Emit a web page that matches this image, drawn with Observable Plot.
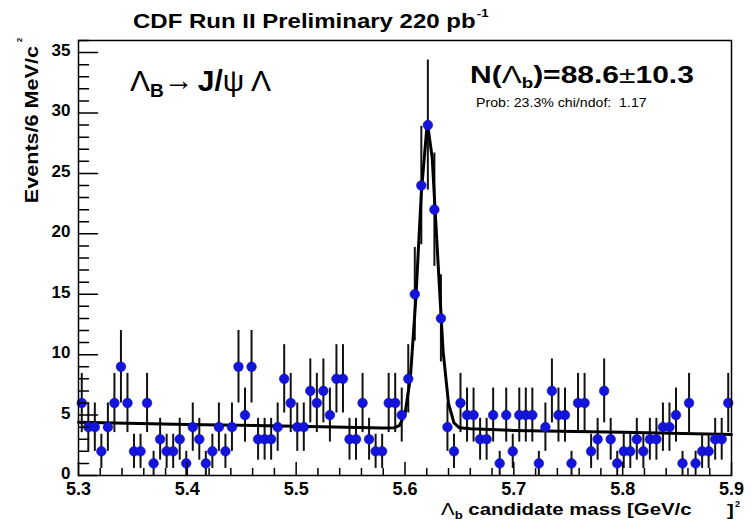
<!DOCTYPE html>
<html>
<head>
<meta charset="utf-8">
<script src="https://cdn.jsdelivr.net/npm/d3@7"></script>
<script src="https://cdn.jsdelivr.net/npm/@observablehq/plot@0.6"></script>
<style>
  html, body { margin: 0; padding: 0; background: #ffffff; }
  svg { display: block; }
</style>
</head>
<body>
<div id="chart"></div>
<script>
// ---------- data ----------
const massStart = 5.3;      // GeV/c^2, low edge of first bin
const binWidth = 0.006;     // 6 MeV/c^2 bins
const counts = [
  6, 4, 4, 2, 4, 6, 9, 6, 2, 2,
  6, 1, 3, 2, 2, 3, 1, 4, 3, 1,
  2, 4, 2, 4, 9, 5, 9, 3, 3, 3,
  4, 8, 6, 4, 4, 7, 6, 7, 5, 8,
  8, 3, 3, 6, 3, 2, 2, 6, 6, 5,
  8, 15, 24, 29, 22, 13, 4, 2, 6, 5,
  5, 3, 3, 5, 1, 5, 2, 5, 5, 5,
  1, 4, 7, 5, 5, 1, 6, 6, 2, 3,
  7, 3, 1, 2, 2, 3, 2, 3, 3, 4,
  4, 5, 1, 6, 1, 2, 2, 3, 3, 6
];
// fitted curve (gaussian + linear background)
const fitMass  = [5.300, 5.400, 5.500, 5.580, 5.590, 5.595, 5.600, 5.605, 5.610, 5.615, 5.620, 5.621, 5.625, 5.630, 5.635, 5.640, 5.645, 5.650, 5.660, 5.700, 5.800, 5.900];
const fitValue = [4.40, 4.23, 4.07, 3.93, 3.95, 4.14, 5.10, 8.15, 14.7, 23.4, 28.7, 28.9, 26.3, 18.2, 10.3, 5.95, 4.35, 3.95, 3.86, 3.73, 3.57, 3.40];

const xMajorTicks = [5.3, 5.4, 5.5, 5.6, 5.7, 5.8, 5.9];
const xMinorTicks = [5.32, 5.34, 5.36, 5.38, 5.42, 5.44, 5.46, 5.48, 5.52, 5.54, 5.56, 5.58,
                     5.62, 5.64, 5.66, 5.68, 5.72, 5.74, 5.76, 5.78, 5.82, 5.84, 5.86, 5.88];
const yMajorTicks = [0, 5, 10, 15, 20, 25, 30, 35];
const yMinorTicks = [1, 2, 3, 4, 6, 7, 8, 9, 11, 12, 13, 14, 16, 17, 18, 19, 21, 22, 23, 24,
                     26, 27, 28, 29, 31, 32, 33, 34, 36];

// ---------- tables built from the arrays ----------
const bins = counts.map((n, i) => ({
  mass: massStart + (i + 0.5) * binWidth,
  n,
  lo: n - Math.sqrt(n),
  hi: n + Math.sqrt(n)
}));
const fit = fitMass.map((m, i) => ({mass: m, value: fitValue[i]}));

const FONT = "'Liberation Sans', Arial, Helvetica, sans-serif";
const tickShape = {draw(context, l) { context.moveTo(0, 0); context.lineTo(0, -l); }};

const plot = Plot.plot({
  width: 751,
  height: 525,
  marginLeft: 78,
  marginRight: 20,
  marginTop: 40,
  marginBottom: 50,
  x: {domain: [5.3, 5.9]},
  y: {domain: [0, 36]},
  style: {fontFamily: FONT, background: "#ffffff"},
  marks: [
    Plot.ruleX(bins, {x: "mass", y1: "lo", y2: "hi", stroke: "#111", strokeWidth: 2, clip: true}),
    Plot.line(fit, {x: "mass", y: "value", stroke: "#000", strokeWidth: 3}),
    Plot.dot(bins, {x: "mass", y: "n", r: 4.8, fill: "#1414dc", stroke: "#1010b0", strokeWidth: 0.6}),
    // inward ticks (ROOT style)
    Plot.vector(xMajorTicks, {x: d => d, frameAnchor: "bottom", length: 13, shape: tickShape, anchor: "start", stroke: "#000", strokeWidth: 1.5}),
    Plot.vector(xMinorTicks, {x: d => d, frameAnchor: "bottom", length: 7, shape: tickShape, anchor: "start", stroke: "#000", strokeWidth: 1.5}),
    Plot.vector(yMajorTicks, {y: d => d, frameAnchor: "left", length: 19, rotate: 90, shape: tickShape, anchor: "start", stroke: "#000", strokeWidth: 1.5}),
    Plot.vector(yMinorTicks, {y: d => d, frameAnchor: "left", length: 10, rotate: 90, shape: tickShape, anchor: "start", stroke: "#000", strokeWidth: 1.5}),
    Plot.axisX({ticks: xMajorTicks, tickSize: 0, tickPadding: 7, tickFormat: d => d.toFixed(1), fontSize: 18, fontWeight: "bold", label: null, fill: "#000"}),
    Plot.axisY({ticks: yMajorTicks, tickSize: 0, tickPadding: 8, tickFormat: d => String(d), fontSize: 17, fontWeight: "bold", label: null, fill: "#000", dy: -2}),
    Plot.frame({stroke: "#000", strokeWidth: 1.5})
  ]
});

document.getElementById("chart").appendChild(plot);

// ---------- rich text (sub/superscripts) ----------
const svg = d3.select(plot);
function label(x, y, parts, {size = 16, sx = 1, sy = 1, anchor = "start", rotate = 0, weight = "bold"} = {}) {
  const g = svg.append("g").attr("transform", `translate(${x},${y}) rotate(${rotate}) scale(${sx},${sy})`);
  const t = g.append("text")
    .attr("font-family", FONT)
    .attr("font-size", size)
    .attr("font-weight", weight)
    .attr("text-anchor", anchor)
    .attr("fill", "#000")
    .style("white-space", "pre");
  let shift = 0;
  for (const p of parts) {
    const o = typeof p === "string" ? {t: p} : p;
    const s = t.append("tspan").text(o.t);
    const sh = o.shift || 0;
    if (sh !== shift) s.attr("dy", sh - shift);
    shift = sh;
    if (o.size) s.attr("font-size", o.size);
    if (o.weight) s.attr("font-weight", o.weight);
    if (o.dx) s.attr("dx", o.dx);
  }
  return g;
}

// title
label(133, 28, ["CDF Run II Preliminary 220 pb", {t: "-1", size: 11, shift: -11, dx: 1}], {size: 20, sx: 1.2});
// decay label
label(130, 91, [
  {t: "Λ", weight: "normal"},
  {t: "B", size: 19, shift: 6},
  {t: "→", weight: "normal", shift: -1},
  {t: "J/", shift: 0, dx: 4},
  {t: "ψ", weight: "normal"},
  {t: " Λ", weight: "normal"}
], {size: 30, sx: 1.0});
// fit result
label(470, 83, [
  "N(",
  {t: "Λ", weight: "normal"},
  {t: "b", size: 15, shift: 5},
  {t: ")=88.6", shift: 0},
  {t: "±", weight: "normal"},
  "10.3"
], {size: 24, sx: 1.25});
label(476, 107, ["Prob: 23.3% chi/ndof:  1.17"], {size: 12, weight: "normal", sx: 1.18});
// y axis title
label(38, 46, ["Events/6 MeV/c"], {size: 16, rotate: -90, anchor: "end", sx: 1.35, sy: 1.1});
label(22, 40, ["2"], {size: 8, rotate: -90, anchor: "middle"});
// x axis title
label(441, 515, [
  {t: "Λ", weight: "normal"},
  {t: "b", size: 11, shift: 4},
  {t: " candidate mass [GeV/c", shift: 0}
], {size: 17, sx: 1.2});
label(727, 516, ["]"], {size: 17, sx: 1.2});
label(735, 507, ["2"], {size: 9});
</script>
</body>
</html>
